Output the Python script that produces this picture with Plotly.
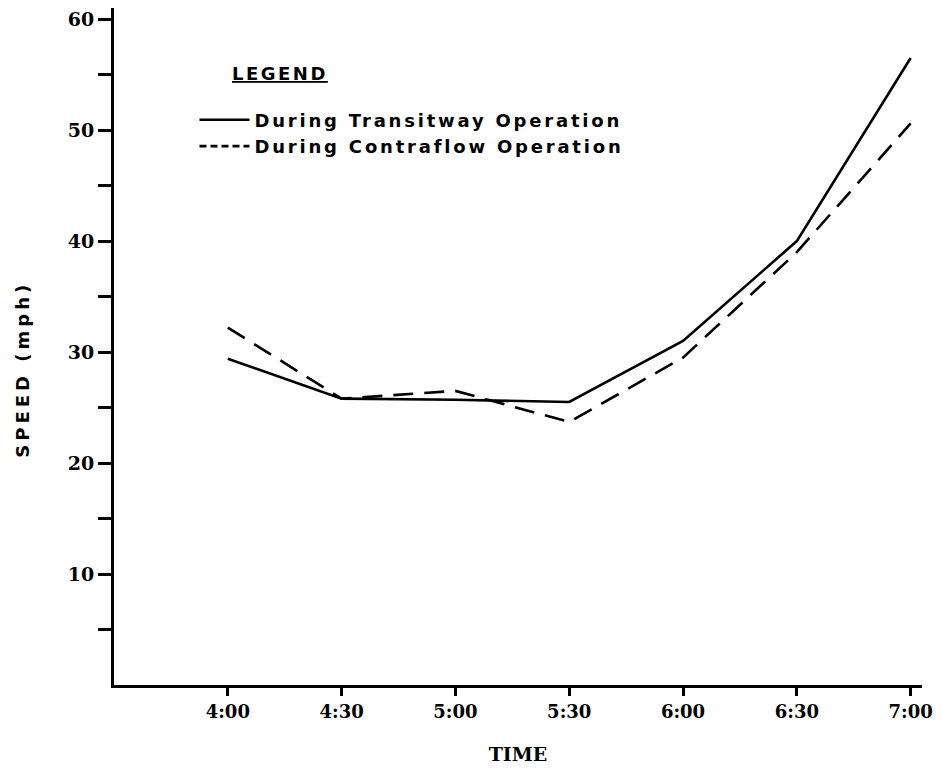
import plotly.graph_objects as go

times = ["4:00", "4:30", "5:00", "5:30", "6:00", "6:30", "7:00"]
transitway = [29.4, 25.8, 25.7, 25.5, 31.0, 40.0, 56.5]
contraflow = [32.2, 25.8, 26.5, 23.7, 29.5, 39.0, 50.6]
y_tickvals = [5, 10, 15, 20, 25, 30, 35, 40, 45, 50, 55, 60]
y_ticktext = ["", "10", "", "20", "", "30", "", "40", "", "50", "", "60"]
names = ["During Transitway Operation", "During Contraflow Operation"]

serif = "DejaVu Serif"
sans = "DejaVu Sans"

W, H = 941, 771
# plot area in page pixels
PL, PR, PT, PB = 114, 927, 8, 696


def px_x(x):
    return (x - PL) / (PR - PL)


def px_y(y):
    return (PB - y) / (PB - PT)


def spaced(txt, px):
    return f'<span style="letter-spacing:{px}px">{txt}</span>'


fig = go.Figure()
fig.add_trace(go.Scatter(
    x=times, y=transitway, mode="lines", name=names[0], showlegend=False,
    line=dict(color="black", width=2.6)))
fig.add_trace(go.Scatter(
    x=times, y=contraflow, mode="lines", name=names[1], showlegend=False,
    line=dict(color="black", width=2.6, dash="20px,11px")))
# legend entries (short dashes in the key, as in the original)
fig.add_trace(go.Scatter(
    x=[None], y=[None], mode="lines", name=spaced(names[0], 2.8),
    line=dict(color="black", width=2.6)))
fig.add_trace(go.Scatter(
    x=[None], y=[None], mode="lines", name=spaced(names[1], 2.8),
    line=dict(color="black", width=2.6, dash="7px,4px")))

fig.update_layout(
    width=W, height=H,
    margin=dict(l=PL, r=W - PR, t=PT, b=H - PB),
    paper_bgcolor="white", plot_bgcolor="white",
    showlegend=True,
    legend=dict(
        x=px_x(195), y=px_y(103), xanchor="left", yanchor="top",
        bgcolor="rgba(0,0,0,0)",
        font=dict(family=sans, size=18, color="black", weight="bold"),
        itemwidth=50, tracegroupgap=0,
    ),
    xaxis=dict(
        type="category", range=[-1, 6.1],
        showline=True, linecolor="black", linewidth=3,
        ticks="outside", ticklen=8, tickwidth=2.5, tickcolor="black",
        showgrid=False, zeroline=False,
        tickfont=dict(family=serif, size=18, color="black", weight="bold"),
        title=dict(text="TIME", standoff=28,
                   font=dict(family=serif, size=19, color="black", weight="bold")),
    ),
    yaxis=dict(
        range=[0, 61.0],
        showline=True, linecolor="black", linewidth=3,
        ticks="outside", ticklen=13, tickwidth=2.5, tickcolor="black",
        tickvals=y_tickvals, ticktext=y_ticktext,
        showgrid=False, zeroline=False,
        tickfont=dict(family=serif, size=19, color="black", weight="bold"),
    ),
)

fig.add_annotation(
    text="<u>" + spaced("LEGEND", 2.5) + "</u>", xref="paper", yref="paper",
    x=px_x(231), y=px_y(75), xanchor="left", yanchor="middle",
    showarrow=False,
    font=dict(family=sans, size=18, color="black", weight="bold"),
)
fig.add_annotation(
    text=spaced("SPEED (mph)", 4), xref="paper", yref="paper",
    x=px_x(22), y=px_y(375), xanchor="center", yanchor="middle",
    textangle=-90, showarrow=False,
    font=dict(family=sans, size=18, color="black", weight="bold"),
)

fig.write_html(
    "out.html",
    config={"displayModeBar": False},
    post_script="document.body.style.margin='0';document.body.style.overflow='hidden';",
)
